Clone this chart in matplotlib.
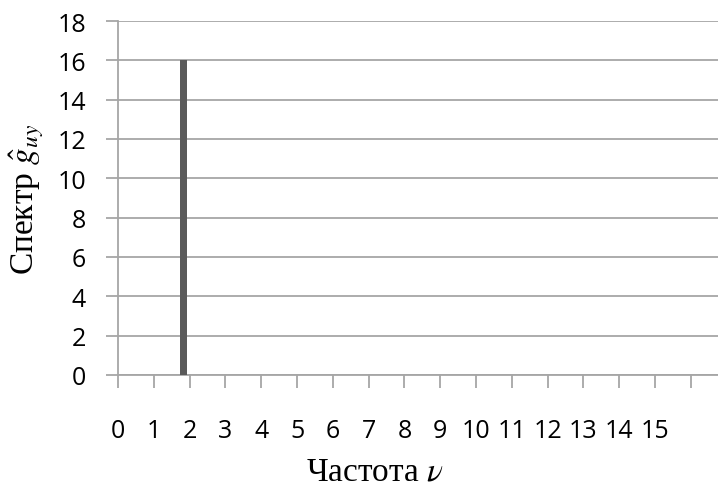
import matplotlib.pyplot as plt

plt.rcParams["mathtext.fontset"] = "stix"

# spectrum: single peak
freq = [1.82]
spectrum = [16]
x_ticks = list(range(17))
x_labels = [str(k) for k in range(16)] + [""]
y_ticks = list(range(0, 19, 2))

GRID = "#a6a6a6"

fig = plt.figure(figsize=(7.18, 4.89), dpi=100)
ax = fig.add_axes([118 / 718, 1 - 376 / 489, 600 / 718, 354 / 489])

ax.bar(freq, spectrum, width=0.2, color="#5a5a5a", zorder=3)

ax.set_xlim(0, 600 / 35.8)
ax.set_ylim(0, 18)
ax.set_yticks(y_ticks)
ax.set_xticks(x_ticks)
ax.set_xticklabels(x_labels)
ax.yaxis.grid(True, color=GRID, linewidth=1.3)
ax.set_axisbelow(True)

for side in ("top", "right"):
    ax.spines[side].set_visible(False)
for side in ("left", "bottom"):
    ax.spines[side].set_color(GRID)
    ax.spines[side].set_linewidth(1.3)

ax.tick_params(axis="both", color=GRID, width=1.3, length=9, labelsize=18,
               labelfontfamily="Open Sans")
ax.tick_params(axis="x", pad=22)
ax.tick_params(axis="y", pad=14)

ax.set_xlabel(r"Частота $\nu$", fontsize=24, family="Liberation Serif",
              va="baseline")
ax.xaxis.set_label_coords((375 - 118) / 600, (376 - 481) / 354)
ax.set_ylabel(r"Спектр $\hat{g}_{uy}$", fontsize=24, family="Liberation Serif")
ax.yaxis.set_label_coords((46 - 118) / 600, 0.5)

fig.savefig("out.png", dpi=100)
